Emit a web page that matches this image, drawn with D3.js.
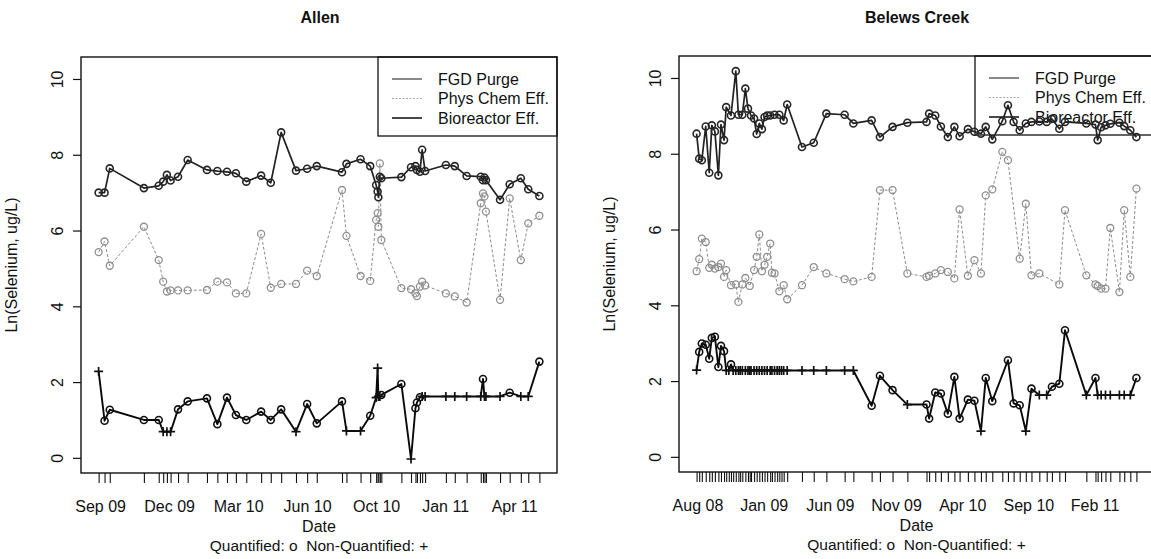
<!DOCTYPE html>
<html><head><meta charset="utf-8">
<script src="https://cdn.jsdelivr.net/npm/d3@7"></script>
<style>
body{margin:0;background:#fff}
text{font-family:"Liberation Sans",Arial,Helvetica,sans-serif;fill:#111}
</style>
</head><body>
<svg id="chart" width="1151" height="559"></svg>
<script>
// ---------------- DATA ----------------
const seriesNames = ["FGD Purge", "Phys Chem Eff.", "Bioreactor Eff."];

// Allen: sample dates as days since allenStart
const allenStart = "2009-09-01";
const allenDay = [21,29,36,82,102,108,113,118,128,141,167,181,194,206,220,240,253,267,287,302,315,349,355,374,387,395,397,398,400,402,429,442,448,450,454,457,461,489,501,517,536,539,541,543,562,575,590,600,615];
const allenFGD = [7.00,7.00,7.64,7.12,7.18,7.29,7.47,7.32,7.42,7.86,7.60,7.57,7.55,7.51,7.29,7.45,7.26,8.59,7.58,7.63,7.70,7.54,7.76,7.88,7.70,7.20,7.03,6.88,7.42,7.38,7.41,7.67,7.70,7.60,7.55,8.13,7.57,7.73,7.70,7.44,7.42,7.33,7.40,7.33,6.81,7.22,7.38,7.09,6.91];
const allenPhys = [5.43,5.71,5.07,6.10,5.22,4.65,4.39,4.42,4.42,4.42,4.43,4.65,4.63,4.34,4.34,5.91,4.49,4.59,4.59,4.94,4.80,7.07,5.86,4.80,4.67,6.28,6.46,6.10,7.77,5.75,4.48,4.45,4.34,4.27,4.52,4.65,4.55,4.34,4.26,4.10,6.72,6.98,6.90,6.50,4.17,6.85,5.22,6.19,6.39];
const allenBio = [2.28,0.98,1.27,1.00,1.00,0.69,0.69,0.69,1.28,1.49,1.57,0.89,1.59,1.13,1.00,1.22,1.00,1.28,0.69,1.42,0.91,1.49,0.71,0.71,1.11,1.59,2.37,1.62,1.62,1.66,1.95,-0.03,1.31,1.46,1.60,1.62,1.62,1.62,1.62,1.62,1.62,2.08,1.62,1.62,1.62,1.72,1.62,1.62,2.54];
// 1 = quantified (o), 0 = non-quantified (+)
const allenBioQuant = [0,1,1,1,1,0,0,0,1,1,1,1,1,1,1,1,1,1,0,1,1,1,0,0,1,0,0,0,0,1,1,0,1,1,1,0,0,0,0,0,0,1,0,0,0,1,0,0,1];
const allenTicks = ["2009-09-24","2009-12-26","2010-03-29","2010-06-30","2010-10-01","2011-01-02","2011-04-05"];
const allenTickLabels = ["Sep 09","Dec 09","Mar 10","Jun 10","Oct 10","Jan 11","Apr 11"];

// Belews Creek: sample dates as days since belewsStart
const belewsStart = "2008-08-01";
const belewsDay = [12,18,24,33,41,47,54,62,68,75,80,86,91,96,102,108,112,117,124,130,134,137,144,150,156,162,168,174,181,185,191,197,202,207,212,220,254,281,310,352,372,414,433,462,496,540,546,560,573,589,604,616,635,650,665,676,691,714,727,740,754,768,781,799,816,828,845,858,907,928,933,941,951,962,983,994,1008,1022];
const belewsFGD = [8.53,7.87,7.83,8.72,7.50,8.75,8.59,7.43,8.77,8.36,9.23,null,9.01,null,10.18,9.03,null,9.03,9.72,9.19,null,9.01,8.93,8.52,8.80,8.65,8.97,9.01,9.01,null,9.03,null,9.03,null,8.88,9.30,8.18,8.29,9.06,9.03,8.80,8.88,8.44,8.71,8.82,8.84,9.06,9.01,8.72,8.44,8.71,8.46,8.65,8.58,8.53,8.71,8.38,8.86,9.28,8.84,8.62,8.80,8.84,8.85,8.84,8.92,8.66,8.84,8.80,8.77,8.36,8.70,8.75,8.79,8.82,8.73,8.62,8.44];
const belewsPhys = [4.90,5.22,5.76,5.67,4.99,5.07,4.97,5.01,5.10,4.75,4.93,null,4.53,null,4.55,4.09,null,4.55,4.72,null,4.51,null,4.93,5.28,5.87,4.90,5.07,5.28,5.63,4.86,4.84,null,4.37,null,4.53,4.16,4.53,5.01,4.84,4.69,4.63,4.75,7.04,7.04,4.84,4.75,4.78,4.84,4.93,4.88,4.71,6.53,4.78,5.19,4.84,6.90,7.06,8.05,7.83,null,5.23,6.68,4.79,4.84,null,null,4.55,6.51,4.79,4.55,4.51,4.44,4.44,6.04,4.35,6.51,4.75,7.08];
const belewsBio = [2.29,2.77,2.99,2.96,2.59,3.14,3.17,2.37,2.93,2.79,2.28,2.28,2.44,2.28,2.28,2.28,2.28,2.28,2.28,2.28,2.28,2.28,2.28,2.28,2.28,2.28,2.28,2.28,2.28,2.28,2.28,2.28,2.28,2.28,2.28,2.28,2.28,2.28,2.28,2.28,2.28,1.35,2.14,1.76,1.38,1.38,1.01,1.70,1.67,1.14,2.11,1.01,1.51,1.48,0.68,2.08,1.47,null,2.55,1.41,1.36,0.68,1.80,1.63,1.63,1.85,1.93,3.34,1.63,2.08,1.63,1.63,1.63,1.63,1.63,1.63,1.63,2.08];
const belewsBioQuant = [0,1,1,1,1,1,1,1,1,1,0,0,1,0,0,0,0,0,0,0,0,0,0,0,0,0,0,0,0,0,0,0,0,0,0,0,0,0,0,0,0,1,1,1,0,1,1,1,1,1,1,1,1,1,0,1,1,0,1,1,1,0,1,0,0,1,1,1,0,1,0,0,0,0,0,0,0,1];
const belewsTicks = ["2008-08-15","2009-01-14","2009-06-15","2009-11-14","2010-04-15","2010-09-14","2011-02-13"];
const belewsTickLabels = ["Aug 08","Jan 09","Jun 09","Nov 09","Apr 10","Sep 10","Feb 11"];

const yTicks = [0,2,4,6,8,10];
const yDomain = [-0.4, 10.58];

// ---------------- DRAW ----------------
const svg = d3.select("#chart");
const parse = d3.timeParse("%Y-%m-%d");

const styles = [
  {stroke:"#222", width:1.7, dash:null, mark:"#262626", legStroke:"#555", legWidth:1.4, legDash:null},
  {stroke:"#8c8c8c", width:1.0, dash:"3,2", mark:"#8f8f8f", legStroke:"#aaa", legWidth:1.2, legDash:"2,1.5"},
  {stroke:"#0a0a0a", width:1.9, dash:null, mark:"#111", legStroke:"#333", legWidth:1.8, legDash:null}
];

function drawPanel(p) {
  const start = parse(p.start);
  const dates = p.days.map(d => d3.timeDay.offset(start, d));
  const ext = d3.extent(dates);
  const pad = (ext[1] - ext[0]) * 0.04;
  const x = d3.scaleTime().domain([new Date(+ext[0] - pad), new Date(+ext[1] + pad)]).range([p.left, p.right]);
  const y = d3.scaleLinear().domain(yDomain).range([p.bottom, p.top]);
  const g = svg.append("g");

  // title
  g.append("text").attr("x", p.titleX).attr("y", 23)
    .attr("text-anchor","middle").attr("font-weight","bold").attr("font-size",16).text(p.title);

  // y axis
  const ya = g.append("g").attr("transform", `translate(${p.left},0)`)
    .call(d3.axisLeft(y).tickValues(yTicks).tickSize(8).tickPadding(0).tickFormat(d3.format("d")));
  ya.select(".domain").remove();
  ya.selectAll(".tick line").attr("stroke","#111").attr("stroke-width",1.2);
  ya.selectAll(".tick text").attr("font-size",16).attr("fill","#111")
    .attr("transform","translate(-18,0) rotate(-90)").attr("text-anchor","middle").attr("x",0).attr("dy","0");

  g.append("text").attr("transform", `translate(${p.left - 64},${(p.top + p.bottom) / 2}) rotate(-90)`)
    .attr("text-anchor","middle").attr("font-size",16).text("Ln(Selenium, ug/L)");

  // x axis: rug ticks at sample dates, labels at tick dates
  const xr = g.append("g").attr("transform", `translate(0,${p.bottom})`)
    .call(d3.axisBottom(x).tickValues(dates).tickSize(10).tickFormat(""));
  xr.select(".domain").remove();
  xr.selectAll(".tick line").attr("stroke","#111").attr("stroke-width",1.1);

  const tickDates = p.ticks.map(parse);
  const xl = g.append("g").attr("transform", `translate(0,${p.bottom})`)
    .call(d3.axisBottom(x).tickValues(tickDates).tickSize(0).tickPadding(28)
      .tickFormat((d, i) => p.tickLabels[i]));
  xl.select(".domain").remove();
  xl.selectAll(".tick text").attr("font-size",16).attr("fill","#111");

  const cx = (p.left + p.right) / 2;
  g.append("text").attr("x", cx).attr("y", p.bottom + 59).attr("text-anchor","middle").attr("font-size",16).text("Date");
  g.append("text").attr("x", cx).attr("y", p.bottom + 78).attr("text-anchor","middle").attr("font-size",15.5)
    .attr("xml:space","preserve").style("white-space","pre").text("Quantified: o  Non-Quantified: +");

  // legend (transparent background, drawn beneath data)
  const lg = g.append("g");
  lg.append("rect").attr("x", p.legX).attr("y", p.top).attr("width", p.right - p.legX).attr("height", p.legH)
    .attr("fill","none").attr("stroke","#111").attr("stroke-width",1.3);
  seriesNames.forEach((n, i) => {
    const yy = p.top + 22 + i * 19.5;
    const s = styles[i];
    lg.append("line").attr("x1", p.legX + 14).attr("x2", p.legX + 44).attr("y1", yy).attr("y2", yy)
      .attr("stroke", s.legStroke).attr("stroke-width", s.legWidth).attr("stroke-dasharray", s.legDash);
    lg.append("text").attr("x", p.legX + 60).attr("y", yy + 5.5).attr("font-size",16).text(n);
  });

  // clip to plot area
  const clipId = "clip" + p.id;
  svg.append("clipPath").attr("id", clipId).append("rect")
    .attr("x", p.left - 5).attr("y", p.top - 5).attr("width", p.right - p.left + 10).attr("height", p.bottom - p.top + 10);
  const plot = g.append("g").attr("clip-path", `url(#${clipId})`);

  const series = [p.fgd, p.phys, p.bio];
  const line = d3.line().x(d => x(d.date)).y(d => y(d.v));
  // draw Phys Chem first, then FGD, then Bio
  [1, 0, 2].forEach(si => {
    const s = styles[si];
    const pts = dates.map((d, i) => ({date: d, v: series[si][i], q: si === 2 ? p.bioQ[i] : 1}))
      .filter(d => d.v !== null && d.v !== undefined);
    plot.append("path").datum(pts).attr("d", line).attr("fill","none")
      .attr("stroke", s.stroke).attr("stroke-width", s.width).attr("stroke-dasharray", s.dash)
      .attr("stroke-linejoin","round");
    plot.selectAll(null).data(pts.filter(d => d.q === 1)).join("circle")
      .attr("cx", d => x(d.date)).attr("cy", d => y(d.v)).attr("r", 3.5)
      .attr("fill","none").attr("stroke", s.mark).attr("stroke-width", si === 1 ? 1.3 : 1.6);
    plot.selectAll(null).data(pts.filter(d => d.q === 0)).join("path")
      .attr("transform", d => `translate(${x(d.date)},${y(d.v)})`)
      .attr("d","M-4.5,0H4.5M0,-4.5V4.5").attr("stroke", s.mark).attr("stroke-width",1.7);
  });

  // plot box
  g.append("rect").attr("x", p.left).attr("y", p.top).attr("width", p.right - p.left).attr("height", p.bottom - p.top)
    .attr("fill","none").attr("stroke","#111").attr("stroke-width",1.4);
}

drawPanel({id:"A", title:"Allen", titleX:320, start:allenStart, days:allenDay, fgd:allenFGD, phys:allenPhys, bio:allenBio, bioQ:allenBioQuant,
  ticks:allenTicks, tickLabels:allenTickLabels, left:81, right:557, top:57, bottom:473, legX:378, legH:79});
drawPanel({id:"B", title:"Belews Creek", titleX:917, start:belewsStart, days:belewsDay, fgd:belewsFGD, phys:belewsPhys, bio:belewsBio, bioQ:belewsBioQuant,
  ticks:belewsTicks, tickLabels:belewsTickLabels, left:679, right:1154, top:56, bottom:472, legX:975, legH:79});
</script>
</body></html>
